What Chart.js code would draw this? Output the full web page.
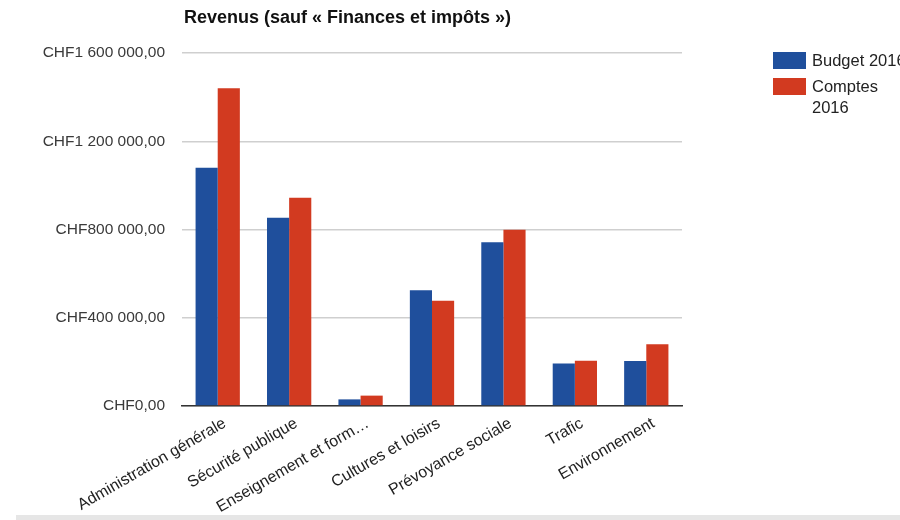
<!DOCTYPE html>
<html>
<head>
<meta charset="utf-8">
<script src="https://cdn.jsdelivr.net/npm/chart.js@4"></script>
<style>
    html, body { margin: 0; padding: 0; background: #fff; }
    #wrap { position: relative; width: 900px; height: 520px; }
    #band { position: absolute; left: 16px; top: 515px; width: 884px; height: 5px; background: #e6e6e6; }
</style>
</head>
<body>
<div id="wrap">
    <canvas id="revenus" width="900" height="520"></canvas>
    <div id="band"></div>
</div>
<script>
const categories = ['Administration générale', 'Sécurité publique', 'Enseignement et form…', 'Cultures et loisirs', 'Prévoyance sociale', 'Trafic', 'Environnement'];
const budget2016 = [1080000, 853000, 30000, 525000, 742000, 193000, 204000];
const comptes2016 = [1440000, 944000, 47000, 477000, 799000, 205000, 280000];
const yTicks = [0, 400000, 800000, 1200000, 1600000];
const yTickLabels = ['CHF0,00', 'CHF400 000,00', 'CHF800 000,00', 'CHF1 200 000,00', 'CHF1 600 000,00'];
const seriesNames = [['Budget 2016'], ['Comptes', '2016']];
const title = 'Revenus (sauf « Finances et impôts »)';

const blue = '#1f4f9c';
const red = '#d23a20';
const font = '"Liberation Sans", Arial, sans-serif';

// title and legend drawn by hand, like the original google chart
const decorPlugin = {
    id: 'decor',
    afterDraw(chart) {
        const ctx = chart.ctx;
        ctx.save();
        ctx.fillStyle = '#111';
        ctx.font = 'bold 18px ' + font;
        ctx.textBaseline = 'middle';
        ctx.fillText(title, 184, 18);

        const colors = [blue, red];
        let y = 52;
        ctx.font = '16.5px ' + font;
        for (let i = 0; i < seriesNames.length; i++) {
            ctx.fillStyle = colors[i];
            ctx.fillRect(773, y, 33, 17);
            ctx.fillStyle = '#222';
            seriesNames[i].forEach((line, j) => {
                ctx.fillText(line, 812, y + 9 + j * 21);
            });
            y += 26;
        }
        ctx.restore();
    }
};

const canvas = document.getElementById('revenus');

new Chart(canvas, {
    type: 'bar',
    data: {
        labels: categories,
        datasets: [
            {
                label: 'Budget 2016',
                data: budget2016,
                backgroundColor: blue,
                categoryPercentage: 0.62,
                barPercentage: 1.0
            },
            {
                label: 'Comptes 2016',
                data: comptes2016,
                backgroundColor: red,
                categoryPercentage: 0.62,
                barPercentage: 1.0
            }
        ]
    },
    options: {
        responsive: false,
        animation: false,
        layout: { padding: { top: 53, right: 218, left: 0, bottom: 0 } },
        plugins: {
            legend: { display: false },
            title: { display: false },
            tooltip: { enabled: false }
        },
        scales: {
            x: {
                grid: { display: false, drawTicks: false },
                border: { color: '#333', width: 1.5 },
                ticks: {
                    color: '#222',
                    font: { family: font, size: 16 },
                    minRotation: 30,
                    maxRotation: 30,
                    autoSkip: false,
                    padding: 8,
                    labelOffset: 7
                },
                afterFit(scale) { scale.height = 114; }
            },
            y: {
                min: 0,
                max: 1600000,
                afterBuildTicks(scale) {
                    scale.ticks = yTicks.map(v => ({ value: v }));
                },
                grid: { color: '#cfcfcf', lineWidth: 1.5, drawTicks: false },
                border: { display: false },
                ticks: {
                    color: '#3a3a3a',
                    font: { family: font, size: 15.5 },
                    padding: 17,
                    callback: (value) => yTickLabels[yTicks.indexOf(value)]
                },
                afterFit(scale) { scale.width = 182; }
            }
        }
    },
    plugins: [decorPlugin]
});
</script>
</body>
</html>
